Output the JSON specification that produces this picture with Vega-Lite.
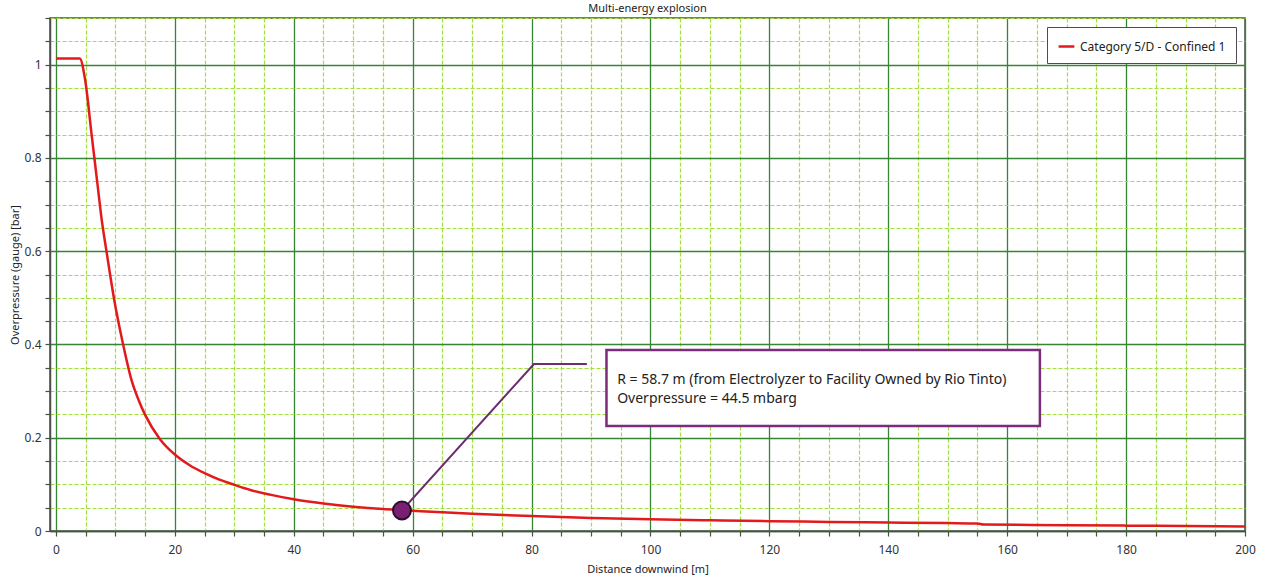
{
  "$schema": "https://vega.github.io/schema/vega-lite/v6.json",
  "width": 1195,
  "height": 513,
  "autosize": {"type": "none"},
  "padding": {"left": 50, "top": 18, "right": 18, "bottom": 53},
  "background": "white",
  "title": {"text": "Multi-energy explosion", "fontSize": 11, "fontWeight": "normal", "font": "Noto Sans", "color": "#222", "anchor": "middle", "offset": -2},
  "config": {
    "view": {"stroke": "#4d4d4d", "strokeWidth": 1.5},
    "font": "Noto Sans"
  },
  "data": {
    "values": [
      {"kind": "curve", "x": 0, "y": 1.013, "series": "Category 5/D - Confined 1"},
      {"kind": "curve", "x": 4, "y": 1.013, "series": "Category 5/D - Confined 1"},
      {"kind": "curve", "x": 4.9, "y": 0.968, "series": "Category 5/D - Confined 1"},
      {"kind": "curve", "x": 6, "y": 0.85, "series": "Category 5/D - Confined 1"},
      {"kind": "curve", "x": 7, "y": 0.742, "series": "Category 5/D - Confined 1"},
      {"kind": "curve", "x": 7.7, "y": 0.667, "series": "Category 5/D - Confined 1"},
      {"kind": "curve", "x": 8.5, "y": 0.6, "series": "Category 5/D - Confined 1"},
      {"kind": "curve", "x": 9.8, "y": 0.496, "series": "Category 5/D - Confined 1"},
      {"kind": "curve", "x": 11.3, "y": 0.4, "series": "Category 5/D - Confined 1"},
      {"kind": "curve", "x": 12.7, "y": 0.324, "series": "Category 5/D - Confined 1"},
      {"kind": "curve", "x": 13.9, "y": 0.281, "series": "Category 5/D - Confined 1"},
      {"kind": "curve", "x": 15, "y": 0.249, "series": "Category 5/D - Confined 1"},
      {"kind": "curve", "x": 17.5, "y": 0.197, "series": "Category 5/D - Confined 1"},
      {"kind": "curve", "x": 20, "y": 0.164, "series": "Category 5/D - Confined 1"},
      {"kind": "curve", "x": 22.5, "y": 0.141, "series": "Category 5/D - Confined 1"},
      {"kind": "curve", "x": 25, "y": 0.124, "series": "Category 5/D - Confined 1"},
      {"kind": "curve", "x": 27.5, "y": 0.11, "series": "Category 5/D - Confined 1"},
      {"kind": "curve", "x": 30, "y": 0.099, "series": "Category 5/D - Confined 1"},
      {"kind": "curve", "x": 32.7, "y": 0.088, "series": "Category 5/D - Confined 1"},
      {"kind": "curve", "x": 36, "y": 0.078, "series": "Category 5/D - Confined 1"},
      {"kind": "curve", "x": 40, "y": 0.068, "series": "Category 5/D - Confined 1"},
      {"kind": "curve", "x": 45, "y": 0.059, "series": "Category 5/D - Confined 1"},
      {"kind": "curve", "x": 50, "y": 0.052, "series": "Category 5/D - Confined 1"},
      {"kind": "curve", "x": 55, "y": 0.047, "series": "Category 5/D - Confined 1"},
      {"kind": "curve", "x": 58.7, "y": 0.0445, "series": "Category 5/D - Confined 1"},
      {"kind": "curve", "x": 65, "y": 0.04, "series": "Category 5/D - Confined 1"},
      {"kind": "curve", "x": 70, "y": 0.037, "series": "Category 5/D - Confined 1"},
      {"kind": "curve", "x": 80, "y": 0.032, "series": "Category 5/D - Confined 1"},
      {"kind": "curve", "x": 90, "y": 0.028, "series": "Category 5/D - Confined 1"},
      {"kind": "curve", "x": 100, "y": 0.025, "series": "Category 5/D - Confined 1"},
      {"kind": "curve", "x": 110, "y": 0.023, "series": "Category 5/D - Confined 1"},
      {"kind": "curve", "x": 120, "y": 0.021, "series": "Category 5/D - Confined 1"},
      {"kind": "curve", "x": 130, "y": 0.0195, "series": "Category 5/D - Confined 1"},
      {"kind": "curve", "x": 140, "y": 0.018, "series": "Category 5/D - Confined 1"},
      {"kind": "curve", "x": 150, "y": 0.017, "series": "Category 5/D - Confined 1"},
      {"kind": "curve", "x": 155, "y": 0.016, "series": "Category 5/D - Confined 1"},
      {"kind": "curve", "x": 156, "y": 0.0138, "series": "Category 5/D - Confined 1"},
      {"kind": "curve", "x": 170, "y": 0.0125, "series": "Category 5/D - Confined 1"},
      {"kind": "curve", "x": 180, "y": 0.0115, "series": "Category 5/D - Confined 1"},
      {"kind": "curve", "x": 190, "y": 0.0105, "series": "Category 5/D - Confined 1"},
      {"kind": "curve", "x": 200, "y": 0.0095, "series": "Category 5/D - Confined 1"},
      {"kind": "leader", "x": 58.2, "y": 0.044, "o": 1},
      {"kind": "leader", "x": 80.4, "y": 0.358, "o": 2},
      {"kind": "leader", "x": 89.3, "y": 0.358, "o": 3},
      {"kind": "marker", "x": 58.2, "y": 0.044},
      {"kind": "box", "x": 92.6, "x2": 165.5, "y": 0.388, "y2": 0.225},
      {"kind": "label", "x": 94.4, "y": 0.323, "text": "R = 58.7 m (from Electrolyzer to Facility Owned by Rio Tinto)"},
      {"kind": "label", "x": 94.4, "y": 0.284, "text": "Overpressure = 44.5 mbarg"}
    ]
  },
  "encoding": {
    "x": {
      "field": "x", "type": "quantitative",
      "scale": {"domain": [-1, 200], "nice": false, "zero": false},
      "axis": {
        "title": "Distance downwind [m]",
        "titleFontSize": 11, "titleFontWeight": "normal", "titleColor": "#222", "titlePadding": 8,
        "values": [0,5,10,15,20,25,30,35,40,45,50,55,60,65,70,75,80,85,90,95,100,105,110,115,120,125,130,135,140,145,150,155,160,165,170,175,180,185,190,195,200],
        "labelExpr": "datum.value % 20 === 0 ? datum.label : ''",
        "labelFontSize": 12, "labelColor": "#333", "labelPadding": 8, "labelFlush": false, "labelOverlap": false,
        "domainColor": "#4d4d4d", "domainWidth": 1.5,
        "tickColor": "#4d4d4d", "tickSize": 5, "tickWidth": 1.2,
        "grid": true,
        "gridColor": {"condition": {"test": "datum.value % 20 === 0", "value": "#358535"}, "value": "#9fe03a"},
        "gridDash": {"condition": {"test": "datum.value % 20 === 0", "value": []}, "value": [4, 2]},
        "gridWidth": {"condition": {"test": "datum.value % 20 === 0", "value": 1.3}, "value": 1.2},
        "gridOpacity": 1
      }
    },
    "y": {
      "field": "y", "type": "quantitative",
      "scale": {"domain": [0, 1.1], "nice": false, "zero": true},
      "axis": {
        "title": "Overpressure (gauge) [bar]",
        "titleFontSize": 11, "titleFontWeight": "normal", "titleColor": "#222", "titlePadding": 4,
        "values": [0,0.05,0.1,0.15,0.2,0.25,0.3,0.35,0.4,0.45,0.5,0.55,0.6,0.65,0.7,0.75,0.8,0.85,0.9,0.95,1,1.05,1.1],
        "labelExpr": "abs(datum.value*5 - round(datum.value*5)) < 0.001 ? format(datum.value, '~g') : ''",
        "labelFontSize": 12, "labelColor": "#333", "labelPadding": 4, "labelFlush": false, "labelOverlap": false,
        "domainColor": "#4d4d4d", "domainWidth": 1.5,
        "tickColor": "#4d4d4d", "tickSize": 5, "tickWidth": 1.2,
        "grid": true,
        "gridColor": {"condition": {"test": "abs(datum.value*5 - round(datum.value*5)) < 0.001", "value": "#358535"}, "value": "#9fe03a"},
        "gridDash": {"condition": {"test": "abs(datum.value*5 - round(datum.value*5)) < 0.001", "value": []}, "value": [4, 2]},
        "gridWidth": {"condition": {"test": "abs(datum.value*5 - round(datum.value*5)) < 0.001", "value": 1.3}, "value": 1.2},
        "gridOpacity": 1
      }
    }
  },
  "layer": [
    {
      "transform": [{"filter": "datum.kind === 'curve'"}],
      "mark": {"type": "line", "strokeWidth": 2.5, "interpolate": "monotone"},
      "encoding": {
        "color": {
          "field": "series", "type": "nominal",
          "scale": {"domain": ["Category 5/D - Confined 1"], "range": ["#e31a1c"]},
          "legend": {
            "title": null, "orient": "top-right", "offset": 9,
            "fillColor": "white", "strokeColor": "#4d4d4d", "padding": 10,
            "labelFontSize": 12, "labelColor": "#222", "labelFont": "Noto Sans",
            "symbolType": "stroke", "symbolStrokeWidth": 2.5, "symbolSize": 250, "cornerRadius": 0
          }
        }
      }
    },
    {
      "transform": [{"filter": "datum.kind === 'leader'"}],
      "mark": {"type": "line", "color": "#6e2c70", "strokeWidth": 2},
      "encoding": {
        "order": {"field": "o", "type": "quantitative"}
      }
    },
    {
      "transform": [{"filter": "datum.kind === 'marker'"}],
      "mark": {"type": "point", "filled": true, "fill": "#7b1f73", "stroke": "#2a0f2c", "strokeWidth": 2, "size": 320, "opacity": 1}
    },
    {
      "transform": [{"filter": "datum.kind === 'box'"}],
      "mark": {"type": "rect", "fill": "white", "stroke": "#7b2d7b", "strokeWidth": 2.5},
      "encoding": {
        "x2": {"field": "x2"},
        "y2": {"field": "y2"}
      }
    },
    {
      "transform": [{"filter": "datum.kind === 'label'"}],
      "mark": {"type": "text", "align": "left", "baseline": "middle", "fontSize": 14, "font": "Noto Sans", "color": "#222"},
      "encoding": {
        "text": {"field": "text", "type": "nominal"}
      }
    }
  ]
}
